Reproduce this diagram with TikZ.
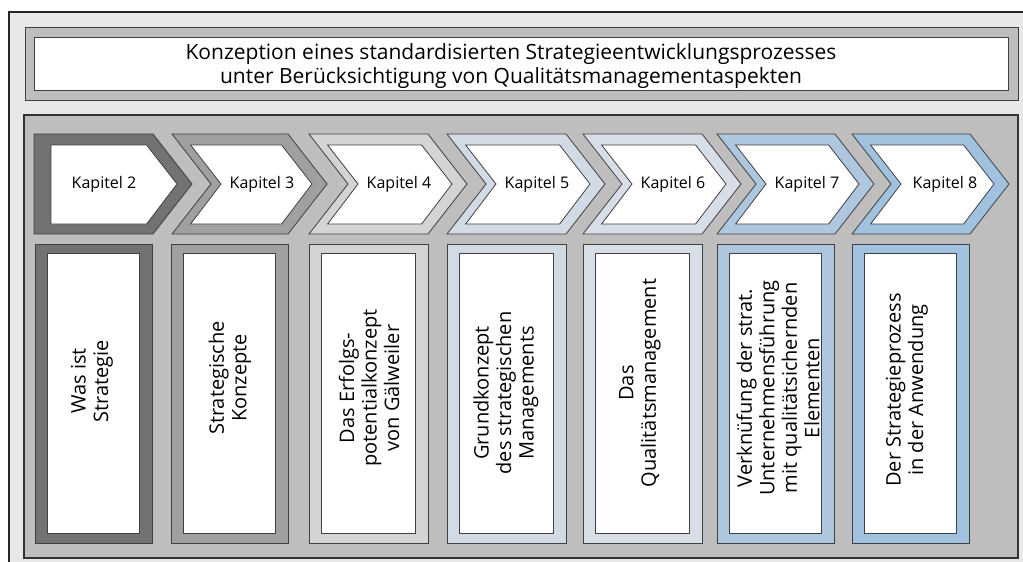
\documentclass[tikz,border=0pt]{standalone}
\usepackage{fontspec}
\setmainfont{Open Sans}
\definecolor{pagebg}{HTML}{E8E8E8}
\definecolor{panelbg}{HTML}{BEBEBE}
\definecolor{kapA}{HTML}{727272}
\definecolor{kapB}{HTML}{A0A0A0}
\definecolor{kapC}{HTML}{D4D5D2}
\definecolor{kapD}{HTML}{D2DAE5}
\definecolor{kapE}{HTML}{D7DEE8}
\definecolor{kapF}{HTML}{AEC6DE}
\definecolor{kapG}{HTML}{A0C2DE}
\definecolor{edgeclr}{HTML}{404040}

% chevron with a notched left side: left x, right x, band colour
\newcommand\kapchev[3]{%
  \draw[band, fill=#3] (#1,134) -- (#2,134) -- (#2+39,184) -- (#2,234) -- (#1,234) -- (#1+39,184) -- cycle;
  \draw[band, fill=white] (#1+18.6,145) -- (#2-6.4,145) -- (#2+24,184) -- (#2-6.4,224) -- (#1+18.6,224) -- (#1+49,184) -- cycle;
}
% chapter box below a chevron: left x, right x, band colour
\newcommand\kapbox[3]{%
  \draw[band, fill=#3] (#1,244) rectangle (#2,543);
  \draw[band, fill=white] (#1+12,253) rectangle (#2-13,533);
}

\begin{document}
\begin{tikzpicture}[x=1pt,y=-1pt,
  band/.style={draw=edgeclr, line width=0.8pt, line join=miter},
  kaplabel/.style={inner sep=0pt, font=\fontsize{16}{20}\selectfont},
  titletext/.style={inner sep=0pt, align=center, font=\fontsize{21}{24}\selectfont},
  vtext/.style={inner sep=0pt, align=center, rotate=90, font=\fontsize{20}{22.5}\selectfont}]
\useasboundingbox (0,0) rectangle (1023,562);
\fill[white] (0,0) rectangle (1023,562);

% page frame
\draw[fill=pagebg, draw=black!85, line width=1.1pt] (9,12) rectangle (1040,580);

% title block
\draw[band, fill=panelbg] (25,27) rectangle (1018,100);
\draw[band, fill=white] (34,37) rectangle (1008,90);
\node[titletext] (title) at (511,66) {Konzeption eines standardisierten Strategieentwicklungsprozesses\\unter Berücksichtigung von Qualitätsmanagementaspekten};

% chapter panel
\draw[band, draw=black!80, line width=1.1pt, fill=panelbg] (24,115) rectangle (1018,558);

% first chevron has a straight left side
\draw[band, fill=kapA] (34,134) -- (153,134) -- (192,184) -- (153,234) -- (34,234) -- cycle;
\draw[band, fill=white] (51,145) -- (146.6,145) -- (177,184) -- (146.6,224) -- (51,224) -- cycle;
\kapchev{172}{288}{kapB}
\kapchev{309}{428}{kapC}
\kapchev{447}{566}{kapD}
\kapchev{583}{702}{kapE}
\kapchev{717}{835}{kapF}
\kapchev{852}{970}{kapG}

\kapbox{35}{152}{kapA}
\kapbox{171}{288}{kapB}
\kapbox{309}{428}{kapC}
\kapbox{447}{566}{kapD}
\kapbox{583}{702}{kapE}
\kapbox{717}{834}{kapF}
\kapbox{852}{969}{kapG}

% chevron labels
\node[kaplabel] (k2) at (104,184) {Kapitel 2};
\node[kaplabel] (k3) at (262,184) {Kapitel 3};
\node[kaplabel] (k4) at (399,184) {Kapitel 4};
\node[kaplabel] (k5) at (537,184) {Kapitel 5};
\node[kaplabel] (k6) at (673,184) {Kapitel 6};
\node[kaplabel] (k7) at (807,184) {Kapitel 7};
\node[kaplabel] (k8) at (945,184) {Kapitel 8};

% chapter contents
\node[vtext] (t2) at (92,381) {Was ist\\Strategie};
\node[vtext] (t3) at (230,378) {Strategische\\Konzepte};
\node[vtext] (t4) at (369,388) {Das Erfolgs-\\potentialkonzept\\von Gälweiler};
\node[vtext] (t5) at (506,393) {Grundkonzept\\des strategischen\\Managements};
\node[vtext] (t6) at (640,383) {Das\\Qualitätsmanagement};
\node[vtext] (t7) at (778,388) {Verknüfung der strat.\\Unternehmensführung\\mit qualitätsichernden\\Elementen};
\node[vtext] (t8) at (907,390) {Der Strategieprozess\\in der Anwendung};
\end{tikzpicture}
\end{document}
